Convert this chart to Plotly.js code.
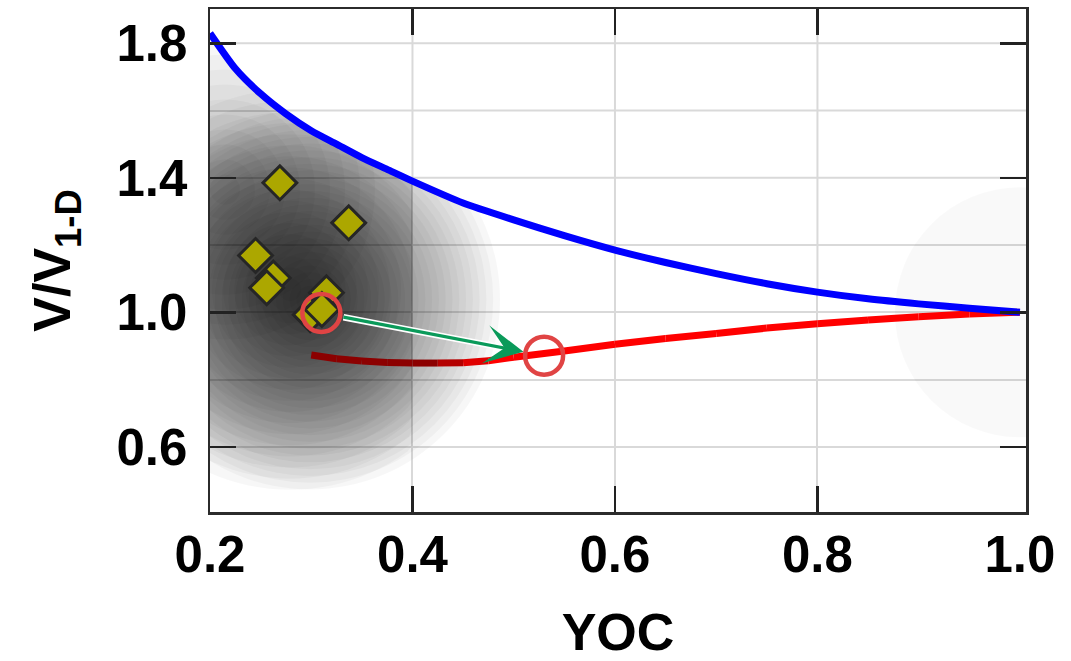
<!DOCTYPE html>
<html>
<head>
<meta charset="utf-8">
<script src="https://cdn.plot.ly/plotly-3.0.1.min.js"></script>
<style>
  html, body { margin: 0; padding: 0; background: #fff; }
  #chart { width: 1071px; height: 661px; }
</style>
</head>
<body>
<div id="chart"></div>
<script>
// ---- data ----
// upper bound (blue)
const boundX = [0.2, 0.225, 0.25, 0.275, 0.3, 0.325, 0.35, 0.375, 0.4, 0.45, 0.5, 0.55, 0.6, 0.65, 0.7, 0.75, 0.8, 0.85, 0.9, 0.95, 1.0];
const boundY = [1.83, 1.725, 1.65, 1.59, 1.54, 1.50, 1.46, 1.425, 1.39, 1.325, 1.275, 1.228, 1.185, 1.148, 1.115, 1.085, 1.06, 1.04, 1.025, 1.012, 1.0];
// model curve (red)
const modelX = [0.3, 0.325, 0.35, 0.375, 0.4, 0.425, 0.45, 0.475, 0.5, 0.55, 0.6, 0.65, 0.7, 0.75, 0.8, 0.85, 0.9, 0.95, 1.0];
const modelY = [0.873, 0.862, 0.855, 0.851, 0.849, 0.849, 0.850, 0.856, 0.866, 0.885, 0.905, 0.922, 0.937, 0.953, 0.966, 0.977, 0.987, 0.995, 1.0];
// observations (diamonds), listed back to front
const obsX = [0.269, 0.337, 0.245, 0.2625, 0.256, 0.315, 0.299, 0.3105];
const obsY = [1.385, 1.266, 1.169, 1.102, 1.073, 1.058, 0.993, 1.008];
// highlighted shift: observed mean -> model point
const shiftX = [0.310, 0.530];
const shiftY = [0.998, 0.871];
// ensemble density: broad component and the part limited to YOC < coreLimit
const cloudX = [0.2988];
const cloudY = [1.038];
const coreX = [0.279, 0.2148];
const coreY = [1.067, 1.365];
const coreLimit = 0.4;
// 1-D reference
const refX = [1.0];
const refY = [1.0];
// ticks
const xTickVals = [0.4, 0.6, 0.8];
const xLabelVals = [0.2, 0.4, 0.6, 0.8, 1.0];
const yTickVals = [0.6, 1.0, 1.4, 1.8];
const yGridVals = [0.6, 0.8, 1.0, 1.2, 1.4, 1.6, 1.8];

// ---- geometry / style ----
const FONT = 'Liberation Sans, Arial, Helvetica, sans-serif';
const W = 1071, H = 661;
const M = { l: 210, r: 45, t: 9, b: 149 };
const xRange = [0.2, 1.006];
const yRange = [0.406, 1.902];
const pxPerX = (W - M.l - M.r) / (xRange[1] - xRange[0]);
const pxPerY = (H - M.t - M.b) / (yRange[1] - yRange[0]);
const GRID = '#d9d9d9';
const cloudStyle = { radius: [190], rings: [28], alpha: 0.033 };
const coreStyle = { radius: [200, 150], rings: [18, 10], alpha: 0.031 };

const traces = [];
const skip = { hoverinfo: 'skip', showlegend: false, type: 'scatter' };

// broad density: stacked translucent discs
cloudX.forEach((cx, i) => {
  const n = cloudStyle.rings[i], R = cloudStyle.radius[i];
  const sizes = [];
  for (let k = n; k >= 1; k--) sizes.push(2 * R * k / n);
  traces.push(Object.assign({}, skip, {
    mode: 'markers',
    x: sizes.map(() => cx), y: sizes.map(() => cloudY[i]),
    marker: { size: sizes, color: '#000', opacity: cloudStyle.alpha, line: { width: 0 } }
  }));
});

// inner density, cut at YOC = coreLimit
coreX.forEach((cx, i) => {
  const n = coreStyle.rings[i], R = coreStyle.radius[i];
  for (let k = n; k >= 1; k--) {
    const r = R * k / n;
    const px = [], py = [];
    for (let j = 0; j <= 120; j++) {
      const t = 2 * Math.PI * j / 120;
      px.push(Math.min(cx + r / pxPerX * Math.cos(t), coreLimit));
      py.push(coreY[i] + r / pxPerY * Math.sin(t));
    }
    traces.push(Object.assign({}, skip, {
      mode: 'none', x: px, y: py, fill: 'toself',
      fillcolor: 'rgba(0,0,0,' + coreStyle.alpha + ')'
    }));
  }
});

// density only lives below the upper bound: blank out the region above it
const last = boundX.length - 1;
traces.push(Object.assign({}, skip, {
  mode: 'none', fill: 'toself', fillcolor: '#ffffff',
  x: boundX.concat([xRange[1], xRange[1], xRange[0]]),
  y: boundY.concat([boundY[last], yRange[1], yRange[1]])
}));

// restore the grid above the bound
function boundAt(x) {
  for (let i = 0; i < last; i++) {
    if (x >= boundX[i] && x <= boundX[i + 1]) {
      const f = (x - boundX[i]) / (boundX[i + 1] - boundX[i]);
      return boundY[i] + f * (boundY[i + 1] - boundY[i]);
    }
  }
  return boundY[last];
}
function boundCross(y) {
  for (let i = 0; i < last; i++) {
    if (y <= boundY[i] && y >= boundY[i + 1]) {
      const f = (boundY[i] - y) / (boundY[i] - boundY[i + 1]);
      return boundX[i] + f * (boundX[i + 1] - boundX[i]);
    }
  }
  return xRange[0];
}
yGridVals.filter(v => v > boundY[last]).forEach(v => {
  traces.push(Object.assign({}, skip, {
    mode: 'lines', x: [boundCross(v), xRange[1]], y: [v, v],
    line: { color: GRID, width: 2 }
  }));
});
xTickVals.forEach(v => {
  traces.push(Object.assign({}, skip, {
    mode: 'lines', x: [v, v], y: [boundAt(v), yRange[1]],
    line: { color: GRID, width: 2 }
  }));
});

// faint halo around the 1-D reference
traces.push(Object.assign({}, skip, {
  mode: 'markers', x: refX, y: refY,
  marker: { size: 250, color: '#000', opacity: 0.025, line: { width: 0 } }
}));

// model curve, dark red inside the dense region fading to bright red
function redAt(x) {
  const f = Math.max(0, Math.min(1, (x - 0.415) / 0.065));
  return 'rgb(' + Math.round(140 + f * 115) + ',0,0)';
}
for (let i = 0; i < modelX.length - 1; i++) {
  traces.push(Object.assign({}, skip, {
    mode: 'lines', x: [modelX[i], modelX[i + 1]], y: [modelY[i], modelY[i + 1]],
    line: { color: redAt((modelX[i] + modelX[i + 1]) / 2), width: 7 }
  }));
}

// upper bound
traces.push(Object.assign({}, skip, {
  mode: 'lines', x: boundX, y: boundY,
  line: { color: '#0000ff', width: 7, shape: 'spline', smoothing: 0.6 }
}));

// observations
traces.push(Object.assign({}, skip, {
  mode: 'markers', x: obsX, y: obsY,
  marker: { symbol: 'diamond', size: 26, color: '#aca700', line: { color: '#262626', width: 3 } }
}));

// highlighted points
traces.push(Object.assign({}, skip, {
  mode: 'markers', x: shiftX, y: shiftY,
  marker: { symbol: 'circle-open', size: 38, color: '#e04444', line: { color: '#e04444', width: 4.5 } }
}));

// carrier for the tick labels of the overlay axis
traces.push(Object.assign({}, skip, {
  mode: 'markers', x: xLabelVals, y: xLabelVals.map(() => null), xaxis: 'x2'
}));

const tickFont = { family: FONT, size: 51, color: '#000', weight: 700 };
const titleFont = { family: FONT, size: 52, color: '#000', weight: 700 };

const arrowBase = {
  x: shiftX[1], y: shiftY[1], ax: shiftX[0], ay: shiftY[0],
  xref: 'x', yref: 'y', axref: 'x', ayref: 'y',
  text: '', showarrow: true, startstandoff: 21
};

const layout = {
  width: W, height: H,
  margin: M,
  paper_bgcolor: '#fff', plot_bgcolor: '#fff',
  showlegend: false, hovermode: false,
  xaxis: {
    range: xRange, tickmode: 'array', tickvals: xTickVals,
    showticklabels: false,
    ticks: 'inside', ticklen: 26, tickwidth: 2.5, tickcolor: '#222',
    showline: true, linecolor: '#2b2b2b', linewidth: 2.5, mirror: 'ticks',
    showgrid: true, gridcolor: GRID, gridwidth: 2, zeroline: false
  },
  xaxis2: {
    overlaying: 'x', anchor: 'y', side: 'bottom',
    range: xRange, tickmode: 'array', tickvals: xLabelVals,
    ticktext: xLabelVals.map(v => v.toFixed(1)),
    ticks: '', showline: false, showgrid: false, zeroline: false,
    tickfont: tickFont, ticklabelstandoff: 8,
    title: { text: 'YOC', font: titleFont, standoff: 47 }
  },
  yaxis: {
    range: yRange, tickmode: 'array', tickvals: yTickVals,
    ticktext: yTickVals.map(v => v.toFixed(1)),
    ticks: 'inside', ticklen: 26, tickwidth: 2.5, tickcolor: '#222',
    showline: true, linecolor: '#2b2b2b', linewidth: 2.5, mirror: 'ticks',
    showgrid: true, gridcolor: GRID, gridwidth: 2, zeroline: false,
    minor: { tickmode: 'array', tickvals: yGridVals, ticks: '', showgrid: true, gridcolor: GRID, gridwidth: 2 },
    tickfont: tickFont, ticklabelstandoff: 10,
    title: { text: 'V/V<sub>1-D</sub>', font: titleFont, standoff: 29 }
  },
  annotations: [
    Object.assign({}, arrowBase, { arrowhead: 0, arrowwidth: 6.5, arrowcolor: '#ffffff', standoff: 40 }),
    Object.assign({}, arrowBase, { arrowhead: 3, arrowwidth: 3.2, arrowsize: 2.0, arrowcolor: '#0a9a5a', standoff: 21 })
  ]
};

Plotly.newPlot('chart', traces, layout, { displayModeBar: false, staticPlot: true });
</script>
</body>
</html>
